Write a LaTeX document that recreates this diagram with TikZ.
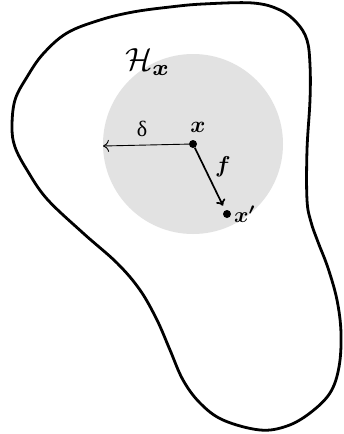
\documentclass[tikz,border=0pt]{standalone}
\usepackage{amsmath}
\usepackage{bm}
\usepackage{graphicx}
\usepackage{fontspec}
\newfontfamily\lserif{Liberation Serif}
\usetikzlibrary{arrows.meta}
\definecolor{ballgray}{RGB}{226,226,226}
\tikzset{
  blob/.style={line width=2.8pt, black},
  pt/.style={circle, fill=black, inner sep=0pt, minimum size=8pt},
  lbl/.style={inner sep=0pt},
}
\begin{document}
\begin{tikzpicture}[x=1pt,y=-1pt]
\useasboundingbox (0,0) rectangle (343,434);
\fill[white] (0,0) rectangle (343,434);
% ball
\fill[ballgray] (193,144) circle (90);
% blob
\draw[blob] plot[smooth cycle, tension=0.6] coordinates {
 (170,7) (203,4) (253,3) (280,10) (297,23) (307,40) (310,65) (310,100)
 (307,150) (307,200) (311,222) (318,242) (328,268) (337,300) (341,333)
 (339,367) (330,393) (310,413) (287,426) (260,430) (223,420) (200,403)
 (183,380) (170,350) (157,320) (140,290) (117,263) (83,233) (47,199)
 (27,170) (15,147) (12,127) (15,100) (27,77) (43,54) (67,33) (100,20) (133,12)};
% points
\node[pt] (x) at (193,144) {};
\node[pt] (xp) at (227,214) {};
\coordinate (dend) at (103,146);
\draw[line width=0.9pt, -{To[length=6pt,width=12pt]}] (x) -- (dend);
\draw[line width=1.7pt, -{To[length=6pt,width=10pt]}, shorten >=5pt] (x) -- (xp);
% labels
\node[lbl] (lx) at (198,127) {\scalebox{2.3}{$\bm{x}$}};
\node[lbl] (ld) at (142,129) {\scalebox{2.2}{\lserif δ}};
\node[lbl] (lf) at (223,167) {\scalebox{2.3}{$\bm{f}$}};
\node[lbl] (lxp) at (245,214) {\scalebox{2.2}{$\bm{x'}$}};
\node[lbl] (lH) at (148,62) {\scalebox{3.2}{$\mathcal{H}_{\bm{x}}$}};
\end{tikzpicture}
\end{document}
